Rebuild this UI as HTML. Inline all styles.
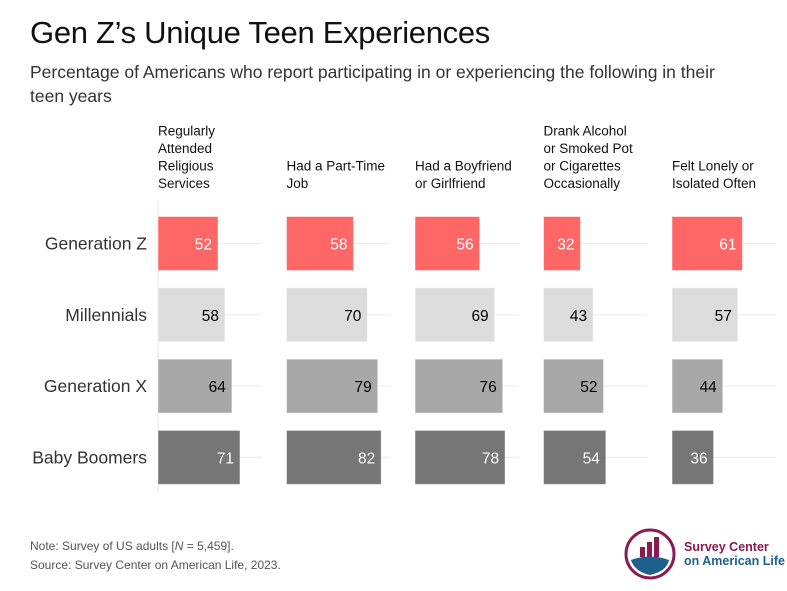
<!DOCTYPE html>
<html><head><meta charset="utf-8"><style>
body{margin:0;background:#fff;font-family:"Liberation Sans",sans-serif;}
#wrap{position:relative;width:787px;height:591px;overflow:hidden;}
.t{position:absolute;white-space:nowrap;}
</style></head><body>
<div id="wrap">
<div class="t" style="left:30px;top:15px;font-size:31px;color:#111;letter-spacing:-0.3px">Gen Z’s Unique Teen Experiences</div>
<div class="t" style="left:30px;top:60px;font-size:17.5px;line-height:24px;color:#333;white-space:normal;width:715px">Percentage of Americans who report participating in or experiencing the following in their teen years</div>
<svg id="svg" width="787" height="591" style="position:absolute;left:0;top:0"></svg>
<div class="t" style="left:30px;top:537px;font-size:12px;color:#555;line-height:19px">Note: Survey of US adults [<i>N</i> = 5,459].<br>Source: Survey Center on American Life, 2023.</div>
<div style="position:absolute;left:623px;top:527px;width:56px;height:56px">
<svg width="56" height="56"><circle cx="27" cy="27" r="24" fill="none" stroke="#8b1a4f" stroke-width="3"/><rect x="17" y="20" width="5" height="10" fill="#8b1a4f"/><rect x="24" y="15" width="5" height="15" fill="#8b1a4f"/><rect x="31" y="10" width="5" height="20" fill="#8b1a4f"/><path d="M8 33 Q27 26 46 33 Q44 44 27 48 Q12 45 8 33Z" fill="#1f5f8b"/></svg></div>
<div class="t" style="left:684px;top:540px;font-size:12.5px;font-weight:bold;color:#8b1a4f;line-height:14px">Survey Center<br><span style="color:#1f5f8b">on American Life</span></div>
</div>
<script>
const groups=["Generation Z","Millennials","Generation X","Baby Boomers"];
const categories=["Regularly\nAttended\nReligious\nServices","Had a Part-Time\nJob","Had a Boyfriend\nor Girlfriend","Drank Alcohol\nor Smoked Pot\nor Cigarettes\nOccasionally","Felt Lonely or\nIsolated Often"];
const genZ=[52,58,56,32,61];
const millennials=[58,70,69,43,57];
const genX=[64,79,76,52,44];
const boomers=[71,82,78,54,36];
const series=[genZ,millennials,genX,boomers];
const colors=["#ff6767","#dcdcdc","#a8a8a8","#767676"];
const textColors=["#fff","#000","#000","#fff"];
const NS="http://www.w3.org/2000/svg";
const svg=document.getElementById("svg");
const panelX=i=>158+i*128.5;
const xs=v=>v*1.155;
const rowY=r=>243.5+r*71.3;
const bh=54;
function mk(tag,attrs){const e=document.createElementNS(NS,tag);for(const k in attrs)e.setAttribute(k,attrs[k]);svg.appendChild(e);return e;}
const ax=mk("line",{x1:158,x2:158,y1:200,y2:492,stroke:"#e6e6e6","stroke-width":1});


groups.forEach((g,r)=>{
  const t=mk("text",{x:147,y:rowY(r)+6,"text-anchor":"end","font-size":17.5,fill:"#333"});
  t.textContent=g;
  
  
});
categories.forEach((c,i)=>{
  const x0=panelX(i);
  const lines=c.split("\n");
  lines.forEach((ln,k)=>{
    const t=mk("text",{x:x0,y:188-(lines.length-1-k)*17.5,"font-size":13.5,fill:"#111"});
    t.textContent=ln;
    
    
  });
  series.forEach((s,r)=>{
    const gl=mk("line",{x1:x0,x2:x0+104,y1:rowY(r),y2:rowY(r),stroke:"#ebebeb","stroke-width":1});
    
    
    const b=mk("rect",{x:x0,y:rowY(r)-bh/2,width:xs(s[i]),height:bh,fill:colors[r],stroke:"rgba(255,255,255,0.5)","stroke-width":1});
    
    
    const v=mk("text",{x:x0+xs(s[i])-6,y:rowY(r)+6,"text-anchor":"end","font-size":15.5,fill:textColors[r]});
    v.textContent=s[i];
    
    
  });
});
</script>
</body></html>
